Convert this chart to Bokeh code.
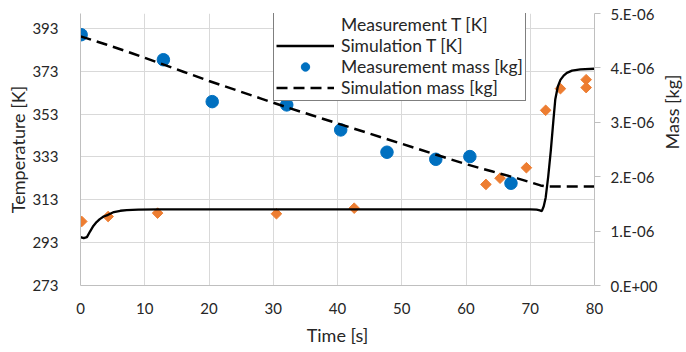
import numpy as np
from bokeh.plotting import figure
from bokeh.models import (Range1d, LinearAxis, FixedTicker, CustomJSTickFormatter,
                          Legend, LegendItem)
from bokeh.embed import file_html
from bokeh.resources import INLINE

# ---- data ----
meas_T_time = [0.2, 4.3, 12.0, 30.5, 42.6, 63.1, 65.3, 69.4, 72.4, 74.7, 78.7, 78.7]
meas_T_val = [302.9, 305.2, 306.8, 306.5, 309.1, 320.2, 323.1, 328.0, 354.8, 364.9, 369.1, 365.4]

sim_T_time = [0, 0.5, 1.0, 1.5, 2.0, 2.5, 3.0, 3.6, 4.3, 5.2, 6.2, 7.2, 9.0, 12.0, 20, 30, 40,
              50, 60, 70, 71.0, 71.5, 71.8, 72.1, 72.4, 72.8, 73.2, 73.6, 73.9, 74.3, 74.7,
              75.2, 75.7, 76.5, 77.8, 80.0]
sim_T_val = [295.6, 295.1, 295.6, 298.3, 300.8, 302.6, 304.0, 305.2, 306.0, 307.3, 307.9, 308.2,
             308.4, 308.5, 308.5, 308.5, 308.5, 308.5, 308.5, 308.5, 308.4, 308.1, 307.7, 310.0,
             314.0, 324.0, 336.0, 350.0, 360.0, 366.0, 369.0, 371.0, 372.3, 373.3, 373.9, 374.2]

meas_m_time = [0.1, 12.9, 20.5, 32.1, 40.5, 47.7, 55.3, 60.6, 67.0]
meas_m_val = [4.61e-6, 4.15e-6, 3.38e-6, 3.32e-6, 2.86e-6, 2.45e-6, 2.32e-6, 2.37e-6, 1.88e-6]

sim_m_time = [0, 4, 8, 12, 16, 20, 24, 28, 32, 36, 40, 44, 48, 52, 56, 60, 64, 68, 71.6, 72.5, 80]
sim_m_val = [4.58e-6, 4.43e-6, 4.27e-6, 4.10e-6, 3.93e-6, 3.76e-6, 3.60e-6, 3.44e-6, 3.28e-6,
             3.13e-6, 2.98e-6, 2.83e-6, 2.68e-6, 2.53e-6, 2.38e-6, 2.23e-6, 2.10e-6, 1.97e-6,
             1.84e-6, 1.82e-6, 1.82e-6]

x_ticks = [0, 10, 20, 30, 40, 50, 60, 70, 80]
T_ticks = [273, 293, 313, 333, 353, 373, 393]
m_ticks = [0, 1e-6, 2e-6, 3e-6, 4e-6, 5e-6]

FONT = "Lato"
TXT = "#262626"
AX = "#bfbfbf"
GRID = "#d9d9d9"
ORANGE = "#ED7D31"
BLUE = "#0070C0"

FRAME_W, FRAME_H = 514, 272

p = figure(frame_width=FRAME_W, frame_height=FRAME_H, output_backend="svg",
           toolbar_location=None,
           x_range=Range1d(0, 80), y_range=Range1d(273, 400),
           min_border_left=80, min_border_right=84, min_border_top=13, min_border_bottom=59)
p.outline_line_color = None
p.background_fill_color = "white"

p.extra_y_ranges = {"mass": Range1d(0, 5e-6)}

p.xaxis.ticker = FixedTicker(ticks=x_ticks)
p.xaxis.axis_label = "Time [s]"
p.yaxis.ticker = FixedTicker(ticks=T_ticks)
p.yaxis.axis_label = "Temperature [K]"

r_ax = LinearAxis(y_range_name="mass", ticker=FixedTicker(ticks=m_ticks),
                  axis_label="Mass [kg]")
r_ax.formatter = CustomJSTickFormatter(code="""
    if (Math.abs(tick) < 1e-12) { return "0.E+00"; }
    return Math.round(tick * 1e6) + ".E-06";
""")
p.add_layout(r_ax, "right")

for ax in [p.xaxis[0], p.yaxis[0], r_ax]:
    ax.axis_line_color = AX
    ax.minor_tick_line_color = None
    ax.major_label_text_font = FONT
    ax.major_label_text_font_size = "15px"
    ax.major_label_text_color = TXT
    ax.axis_label_text_font = FONT
    ax.axis_label_text_font_size = "18px"
    ax.axis_label_text_font_style = "normal"
    ax.axis_label_text_color = TXT

p.xaxis.major_tick_line_color = None
p.yaxis.major_tick_line_color = None
p.xaxis.major_label_standoff = 11
p.xaxis.axis_label_standoff = 7
p.yaxis.major_label_standoff = 16
p.yaxis.axis_label_standoff = 0

r_ax.major_tick_line_color = AX
r_ax.major_tick_in = 0
r_ax.major_tick_out = 6
r_ax.major_label_standoff = 10
r_ax.axis_label_standoff = 11
r_ax.axis_label_orientation = np.pi / 2

# grids
p.xgrid.ticker = FixedTicker(ticks=x_ticks)
p.ygrid.ticker = FixedTicker(ticks=T_ticks + [400])
p.xgrid.grid_line_color = GRID
p.ygrid.grid_line_color = GRID

# glyphs
r1 = p.scatter(meas_T_time, meas_T_val, marker="square", angle=np.pi / 4, size=7.5,
               fill_color=ORANGE, line_color=ORANGE)
r1_leg = p.scatter([], [], marker="diamond", fill_color=ORANGE, line_color=ORANGE)
r2 = p.line(sim_T_time, sim_T_val, line_color="black", line_width=2.3)
r3 = p.scatter(meas_m_time, meas_m_val, marker="circle", size=12.5, y_range_name="mass",
               fill_color=BLUE, line_color=BLUE)
r4 = p.line(sim_m_time, sim_m_val, line_color="black", line_width=2.5, line_dash="11 6",
            y_range_name="mass")

ROW_H = 21
PAD = 2
legend = Legend(items=[
    LegendItem(label="Measurement T [K]", renderers=[r1_leg]),
    LegendItem(label="Simulation T [K]", renderers=[r2]),
    LegendItem(label="Measurement mass [kg]", renderers=[r3]),
    LegendItem(label="Simulation mass [kg]", renderers=[r4]),
], location=(193, FRAME_H - (4 * ROW_H + 2 * PAD)))
legend.margin = 0
legend.padding = PAD
legend.spacing = 0
legend.label_height = ROW_H
legend.glyph_height = ROW_H
legend.glyph_width = 58
legend.label_standoff = 7
legend.label_text_font = FONT
legend.label_text_font_size = "17.5px"
legend.label_text_color = TXT
legend.border_line_color = "black"
legend.border_line_width = 1
legend.background_fill_color = "white"
legend.background_fill_alpha = 1
p.add_layout(legend, "center")

open("out.html", "w").write(file_html(p, INLINE))
